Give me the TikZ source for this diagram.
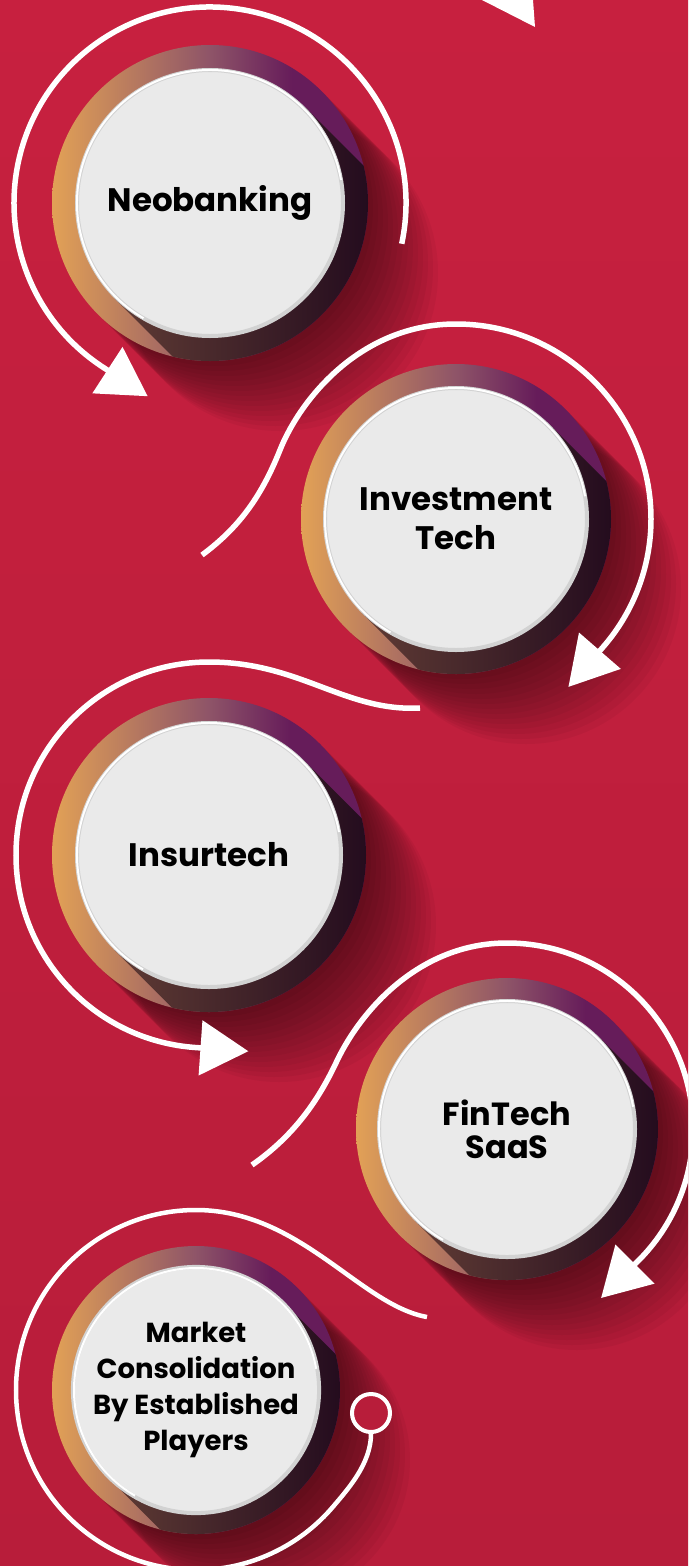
\documentclass[tikz,border=0pt]{standalone}
\usepackage{fontspec}
\setsansfont{Poppins}
\usetikzlibrary{arrows.meta, calc}
\definecolor{bgtop}{HTML}{C7203F}
\definecolor{bgbottom}{HTML}{B81D3A}
\definecolor{ringorange}{HTML}{E2A156}
\definecolor{ringmauve}{HTML}{8E5468}
\definecolor{ringpurple}{HTML}{661C5A}
\definecolor{shadeleft}{HTML}{6E473A}
\definecolor{shaderight}{HTML}{240C1E}
\definecolor{discgray}{HTML}{EAEAEA}
\definecolor{rimgray}{HTML}{D2D2D2}
\pgfdeclarehorizontalshading{ringshade}{100bp}{color(0bp)=(ringorange); color(25bp)=(ringorange); color(50bp)=(ringmauve); color(63bp)=(ringpurple); color(100bp)=(ringpurple)}

\begin{document}
\begin{tikzpicture}[x=1pt, y=-1pt,
  stepdisc/.style={circle, inner sep=0pt, fill=discgray, draw=rimgray, line width=4pt,
    align=center, text=black, font=\sffamily\bfseries\fontsize{32.5}{39}\selectfont},
  swirl/.style={white, line width=5.5pt},
  swirl tip/.style={-{Triangle[width=54pt, length=48pt]}}
]
  \useasboundingbox (0,0) rectangle (688,1566);
  \clip (0,0) rectangle (688,1566);
  % Background
  \shade[top color=bgtop, bottom color=bgbottom] (0,0) rectangle (688,1566);

  % Rings with long shadows
  \foreach \cx/\cy/\R/\Rr in {210/203/135/158, 456/519/133/155, 209/855/134/157, 507/1129/130/151, 196/1390/124/144} {
    \foreach \k in {1,...,14}
      \fill[black, opacity=0.04] (\cx+\k*5, \cy+\k*5) circle (\Rr);
    \shade[shading=ringshade] (\cx,\cy) circle (\Rr);
    \begin{scope}
      \clip (\cx,\cy) circle (\Rr);
      \clip ($(\cx,\cy)+(-45:\R)$) -- ++(300,300) -- ++({-1.4142*\R},{1.4142*\R}) -- ++(-300,-300) -- cycle;
      \shade[left color=shadeleft, right color=shaderight] (\cx,\cy) circle (\Rr);
    \end{scope}
  }

  % Discs
  \node[stepdisc, minimum size=266pt] (neo) at (210,203) {Neobanking};
  \node[stepdisc, minimum size=262pt] (invest) at (456,519) {Investment\\Tech};
  \node[stepdisc, minimum size=264pt] (insur) at (209,855) {Insurtech};
  \node[stepdisc, minimum size=256pt, font=\sffamily\bfseries\fontsize{32}{33}\selectfont] (saas) at (507,1129) {FinTech\\SaaS};
  \node[stepdisc, minimum size=244pt, font=\sffamily\bfseries\fontsize{27.5}{36}\selectfont] (market) at (196,1390) {Market\\Consolidation\\By Established\\Players};
  % Light rims
  \foreach \n/\r in {neo/133, invest/131, insur/132, saas/128, market/122}
    \draw[white, line width=2pt] (\n.center) ++(120:\r) arc[start angle=120, end angle=350, radius=\r];

  % Swirls
  \coordinate (tail2) at (202,555);
  \coordinate (tail3) at (420,708);
  \coordinate (tail4) at (252,1165);
  \coordinate (tail5) at (427,1317);
  \node[circle, draw=white, fill=bgbottom, line width=4pt, minimum size=38pt, inner sep=0pt] (endring) at (371,1413) {};

  \fill[white] (482,0) -- (533,0) -- (535,27) -- cycle;
  \draw[swirl, swirl tip] (neo.center) ++(12:196) arc[start angle=12, end angle=-237, radius=196] -- ++(33:53);
  \draw[swirl, swirl tip] (tail2) .. controls (240,527) and (262,495) .. (280,450)
    .. controls (300,400) and (360,324) .. ($(invest.center)+(-90:195)$)
    arc[start angle=-90, end angle=41, radius=195] -- ++(131:53);
  \draw[swirl, swirl tip] (tail3) .. controls (345,712) and (300,662) .. ($(insur.center)+(-90:193)$)
    arc[start angle=-90, end angle=-266, radius=193] -- ++(4:53);
  \draw[swirl, swirl tip] (tail4) .. controls (295,1135) and (318,1100) .. (335,1065)
    .. controls (360,1010) and (420,943) .. ($(saas.center)+(-90:186)$)
    arc[start angle=-90, end angle=45, radius=186] -- ++(135:53);
  \draw[swirl, line width=4.5pt] (tail5) .. controls (360,1305) and (300,1210) .. ($(market.center)+(-90:180)$)
    arc[start angle=-90, end angle=-320, radius=180] .. controls +(-50:20) and +(0,30) .. (endring.south);
\end{tikzpicture}
\end{document}
